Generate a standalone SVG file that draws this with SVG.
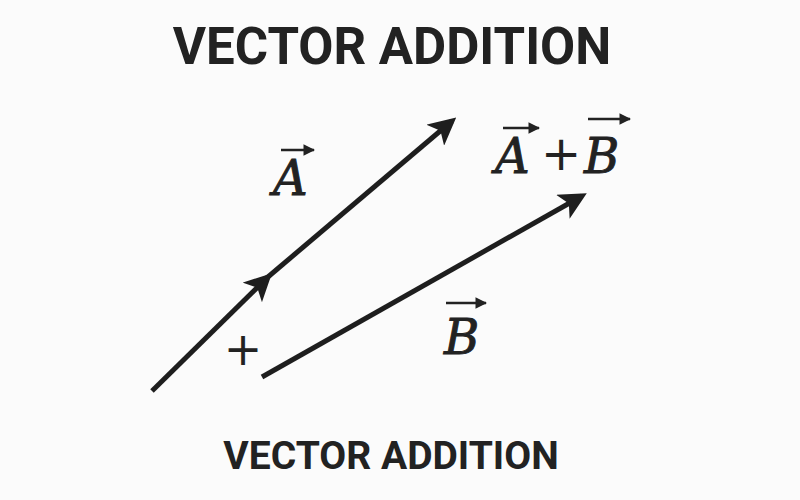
<svg xmlns="http://www.w3.org/2000/svg" width="800" height="500" viewBox="0 0 800 500">
<defs>
<style>
.title{font-family:Roboto,"Liberation Sans",sans-serif;font-weight:bold;fill:#222;text-anchor:middle}
.math{font-family:"DejaVu Serif","Liberation Serif",serif;font-style:italic;fill:#222;stroke:#222;stroke-width:0.9}
.op{font-family:"DejaVu Sans","Liberation Sans",sans-serif;fill:#222;text-anchor:middle}
.vec{stroke:#1e1e1e;stroke-width:5;fill:none;stroke-linecap:butt}
.ov{stroke:#222;stroke-width:2.6;fill:none}
</style>
<marker id="ah" viewBox="0 0 10 10" refX="8" refY="5" markerWidth="5.5" markerHeight="5.5" orient="auto" markerUnits="strokeWidth">
<path d="M0,0 L10,5 L0,10 L2.5,5 Z" fill="#1e1e1e"/>
</marker>
<marker id="oh" viewBox="0 0 10 10" refX="9" refY="5" markerWidth="4.5" markerHeight="4.5" orient="auto" markerUnits="strokeWidth">
<path d="M0,0 L10,5 L0,10 Z" fill="#222"/>
</marker>
</defs>
<rect width="800" height="500" fill="#fbfbfb"/>
<text class="title" x="392" y="64" font-size="51">VECTOR ADDITION</text>
<g id="connectors">
<line class="vec" x1="152" y1="391" x2="268" y2="277" marker-end="url(#ah)"/>
<line class="vec" x1="262" y1="282" x2="452" y2="121" marker-end="url(#ah)"/>
<line class="vec" x1="262" y1="377" x2="582" y2="196" marker-end="url(#ah)"/>
</g>
<g id="label-A">
<text class="math" x="273" y="195" font-size="48">A</text>
<line class="ov" x1="281" y1="150" x2="314" y2="150" marker-end="url(#oh)"/>
</g>
<g id="plus">
<text class="op" x="243" y="365" font-size="46">+</text>
</g>
<g id="label-B">
<text class="math" x="444" y="354" font-size="48">B</text>
<line class="ov" x1="446" y1="303" x2="486" y2="303" marker-end="url(#oh)"/>
</g>
<g id="label-AB">
<text class="math" x="495" y="173" font-size="48">A</text>
<line class="ov" x1="503" y1="128" x2="539" y2="128" marker-end="url(#oh)"/>
<text class="op" x="561" y="170" font-size="48">+</text>
<text class="math" x="584" y="173" font-size="48">B</text>
<line class="ov" x1="588" y1="119" x2="630" y2="119" marker-end="url(#oh)"/>
</g>
<text class="title" x="391" y="469" font-size="39">VECTOR ADDITION</text>
</svg>
